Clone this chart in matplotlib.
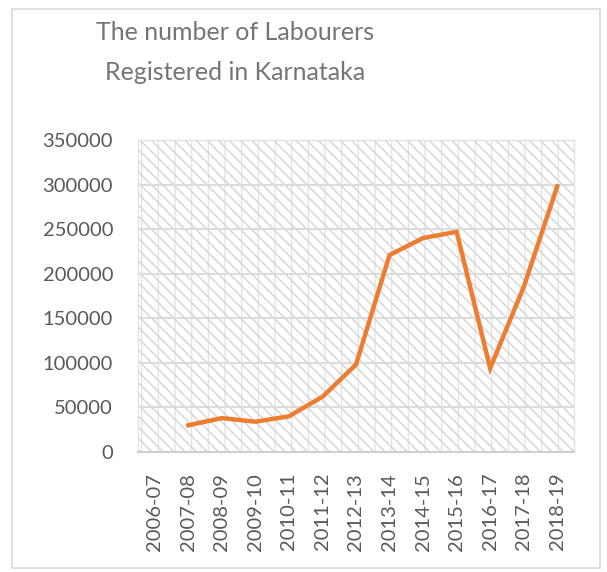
import numpy as np
import matplotlib.pyplot as plt
from matplotlib.patches import Rectangle

years = ['2006-07', '2007-08', '2008-09', '2009-10', '2010-11', '2011-12', '2012-13',
         '2013-14', '2014-15', '2015-16', '2016-17', '2017-18', '2018-19']
labourers = [np.nan, 30000, 38000, 34000, 40000, 62000, 98000,
             221000, 240000, 247000, 94000, 185000, 298000]
yticks = [0, 50000, 100000, 150000, 200000, 250000, 300000, 350000]

plt.rcParams['font.family'] = ['Lato', 'DejaVu Sans']
plt.rcParams['hatch.linewidth'] = 1.0

fig = plt.figure(figsize=(6.07, 5.72), dpi=100)
# outer chart border
fig.patches.append(Rectangle((12/607, 4/572), 588/607, 559/572, transform=fig.transFigure,
                             fill=False, edgecolor='#d9d9d9', linewidth=1.2))

ax = fig.add_axes([138/607, 120/572, 436/607, 312/572])
x = np.arange(len(years))
ax.set_xlim(-0.5, len(years) - 0.5)
ax.set_ylim(0, 350000)

# hatched plot area: light vertical lines + denser diagonals
ax.add_patch(Rectangle((0, 0), 1, 1, transform=ax.transAxes, facecolor='white',
                       edgecolor='#e4e4e4', hatch='|', linewidth=0, zorder=0))
ax.add_patch(Rectangle((0, 0), 1, 1, transform=ax.transAxes, facecolor='none',
                       edgecolor='#d4d4d4', hatch='\\' * 3, linewidth=0, zorder=0.5))
for t in yticks:
    ax.axhline(t, color='#dcdcdc', linewidth=1.5, zorder=1)

ax.plot(x, labourers, color='#ED7D31', linewidth=3.2, zorder=3, solid_joinstyle='miter')

ax.set_xticks(x)
ax.set_xticklabels(years, rotation=90)
ax.set_yticks(yticks)
ax.set_yticklabels([str(t) for t in yticks])
ax.tick_params(axis='both', length=0, labelsize=14.5, labelcolor='#595959')
ax.tick_params(axis='y', pad=18)
ax.tick_params(axis='x', pad=15)

for s in ['top', 'left', 'right']:
    ax.spines[s].set_color('#e3e3e3')
    ax.spines[s].set_linewidth(1)
ax.spines['bottom'].set_color('#d0d0d0')
ax.spines['bottom'].set_linewidth(1.5)

fig.text(235/607, 1 - 33/572, 'The number of Labourers', ha='center', va='center',
         fontsize=18, color='#757575')
fig.text(235/607, 1 - 73/572, 'Registered in Karnataka', ha='center', va='center',
         fontsize=18, color='#757575')

fig.savefig('out.png', dpi=100)
